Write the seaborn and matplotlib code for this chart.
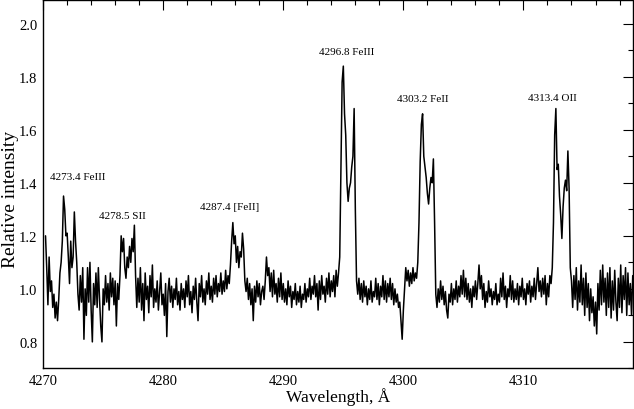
import numpy as np
import pandas as pd
import matplotlib
matplotlib.use("Agg")
import matplotlib.pyplot as plt
import seaborn as sns
from matplotlib.ticker import MultipleLocator

# ---------------- data ----------------
WL_STEP = 0.1  # sampling step of the spectrum, Angstrom

seg_start = [4270.2, 4273.4, 4276.5, 4277.9, 4285.7, 4287.0,
             4294.6, 4296.2, 4301.3, 4302.8, 4312.5, 4314.1]

seg1 = [1.20, 1.08, 0.94, 1.12, 0.99, 1.03, 0.93, 0.98, 0.89, 0.95,
        0.88, 0.96, 1.06, 1.10, 1.18, 1.35, 1.30, 1.20, 1.21, 1.12,
        1.02, 1.18, 1.08, 1.12, 1.29, 1.18, 1.10, 0.98, 0.92, 1.05,
        0.95, 1.08]
seg2 = [0.81, 1.00, 0.90, 1.08, 0.95, 1.10, 0.92, 0.80, 1.02, 0.94,
        1.06, 0.93, 1.08, 0.96, 0.86, 0.80, 1.00, 0.94, 1.05, 0.95,
        1.02, 0.92, 1.06, 0.97, 1.04, 0.94, 1.03, 0.86, 1.02, 0.96,
        1.05]
seg3 = [1.20, 1.14, 1.19, 1.08, 1.04, 1.12, 1.08, 1.16, 1.10, 1.19,
        1.14, 1.24, 1.05, 0.93]
seg4 = [1.04, 0.95, 1.08, 0.92, 1.02, 0.88, 1.06, 0.96, 1.01, 0.91,
        1.05, 0.97, 1.09, 0.93, 1.00, 0.95, 1.03, 0.92, 0.99, 1.06,
        0.94, 0.98, 0.90, 1.02, 0.82, 0.99, 1.04, 0.95, 1.01, 0.93,
        1.00, 0.96, 1.04, 0.94, 0.99, 0.92, 1.02, 0.96, 1.00, 0.93,
        1.03, 0.97, 1.05, 0.94, 0.99, 0.91, 1.01, 0.96, 1.04, 0.95,
        0.88, 1.02, 0.97, 1.05, 0.95, 1.00, 0.94, 1.03, 0.98, 1.06,
        0.96, 1.01, 0.95, 1.04, 0.98, 1.05, 0.97, 1.02, 0.99, 1.06,
        0.98, 1.03, 0.99, 1.07, 1.00, 1.05, 1.02, 1.09]
seg5 = [1.18, 1.25, 1.17, 1.20, 1.10, 1.16, 1.08, 1.14, 1.12, 1.21,
        1.15, 1.03, 0.99]
seg6 = [1.04, 0.96, 1.02, 0.94, 1.00, 0.88, 1.01, 0.95, 1.03, 0.97,
        1.02, 0.94, 0.99, 1.01, 0.96, 1.03, 1.12, 1.05, 1.08, 0.99,
        1.06, 0.97, 1.07, 0.98, 1.02, 0.95, 1.04, 0.97, 1.06, 0.96,
        1.02, 0.95, 1.00, 0.94, 1.03, 0.97, 1.01, 0.93, 0.99, 0.96,
        1.02, 0.94, 0.99, 0.95, 1.01, 0.93, 0.98, 0.96, 1.02, 0.95,
        1.00, 0.97, 1.04, 0.96, 1.01, 0.98, 1.05, 0.97, 1.02, 0.92,
        1.03, 0.96, 1.05, 0.98, 1.01, 0.95, 1.04, 0.98, 1.06, 0.97,
        1.03, 0.99, 1.05, 0.97, 1.07, 1.01]
seg7 = [1.06, 1.12, 1.45, 1.78, 1.84, 1.66, 1.58, 1.40, 1.33, 1.38,
        1.40, 1.46, 1.50, 1.68, 1.30, 1.03]
seg8 = [0.98, 1.04, 0.96, 1.02, 0.95, 1.03, 0.97, 1.01, 0.94, 1.00,
        0.96, 1.03, 0.95, 0.99, 0.97, 1.04, 0.96, 1.02, 0.94, 1.01,
        0.97, 1.05, 0.96, 1.03, 0.95, 1.02, 0.97, 1.04, 0.96, 1.02,
        0.94, 1.00, 0.95, 0.98, 0.93, 0.95, 0.88, 0.81, 0.92, 1.00,
        1.08, 1.03, 1.07, 1.01, 1.06, 1.02, 1.08, 1.03, 1.06, 1.04,
        1.10]
seg9 = [1.25, 1.48, 1.62, 1.66, 1.50, 1.46, 1.42, 1.36, 1.32, 1.38,
        1.42, 1.40, 1.49, 1.25, 0.98]
seg10 = [0.93, 1.00, 0.95, 1.03, 0.96, 1.01, 0.94, 0.99, 0.92, 0.89,
         0.98, 0.95, 1.02, 0.94, 1.00, 0.96, 1.03, 0.95, 1.01, 0.97,
         1.05, 0.98, 1.07, 0.97, 1.04, 0.96, 1.02, 0.95, 1.00, 0.93,
         1.01, 0.97, 1.03, 0.96, 1.02, 1.09, 1.00, 1.05, 0.96, 1.02,
         0.93, 0.99, 0.95, 1.03, 0.97, 1.00, 0.94, 0.99, 0.96, 1.02,
         0.94, 0.98, 0.95, 1.04, 0.97, 1.06, 0.96, 1.01, 0.93, 1.00,
         0.97, 1.05, 0.96, 1.03, 0.95, 1.00, 0.96, 1.02, 0.94, 1.01,
         0.97, 1.04, 0.96, 1.00, 0.94, 1.02, 0.98, 1.03, 0.95, 1.01,
         0.97, 1.04, 0.96, 1.02, 1.08, 0.99, 1.03, 0.97, 1.04, 0.98,
         1.05, 0.94, 1.02, 0.97, 1.05, 1.02, 1.08]
seg11 = [1.25, 1.58, 1.68, 1.45, 1.47, 1.35, 1.28, 1.19, 1.31, 1.38,
         1.41, 1.37, 1.52, 1.38, 1.08, 1.03]
seg12 = [0.93, 1.05, 0.96, 1.08, 0.92, 1.03, 0.95, 1.09, 0.94, 1.04,
         0.90, 1.06, 0.93, 1.02, 0.88, 1.00, 0.91, 0.97, 0.86, 0.95,
         0.83, 1.02, 0.92, 1.07, 0.94, 1.09, 0.95, 1.04, 0.90, 1.06,
         0.93, 1.08, 0.89, 1.03, 0.92, 1.07, 0.95, 0.88, 1.04, 0.93,
         1.09, 0.91, 1.05, 0.96, 1.08, 0.90, 1.06, 0.94, 1.02, 0.90,
         1.05]

segments = [seg1, seg2, seg3, seg4, seg5, seg6,
            seg7, seg8, seg9, seg10, seg11, seg12]

line_labels = ["4273.4 FeIII", "4278.5 SII", "4287.4 [FeII]",
               "4296.8 FeIII", "4303.2 FeII", "4313.4 OII"]
label_x = [4272.9, 4276.6, 4285.5, 4295.3, 4301.6, 4312.4]
label_y = [1.425, 1.277, 1.312, 1.894, 1.716, 1.72]

# ---------------- build table ----------------
wl, inten = [], []
for s0, vals in zip(seg_start, segments):
    wl.extend(s0 + WL_STEP * np.arange(len(vals)))
    inten.extend(vals)
df = pd.DataFrame({"wavelength": wl, "intensity": inten})

# ---------------- plot ----------------
sns.set_theme(style="white")
plt.rcParams["font.family"] = ["Liberation Serif", "DejaVu Serif"]
plt.rcParams["text.color"] = "black"
plt.rcParams["axes.labelcolor"] = "black"
plt.rcParams["xtick.color"] = "black"
plt.rcParams["ytick.color"] = "black"

fig = plt.figure(figsize=(6.34, 4.10), dpi=100)
ax = fig.add_axes([0.068, 0.099, 0.930, 0.899])

sns.lineplot(data=df, x="wavelength", y="intensity", ax=ax,
             color="black", linewidth=1.1, estimator=None, sort=False)

for t, x, y in zip(line_labels, label_x, label_y):
    ax.text(x, y, t, ha="center", va="center", fontsize=8, color="black")

ax.set_xlim(4270, 4319.1)
ax.set_ylim(0.7, 2.09)
ax.set_xticks([4270, 4280, 4290, 4300, 4310])
ax.set_xticklabels(["4270", "4280", "4290", "4300", "4310"])
ax.set_yticks([0.8, 1.0, 1.2, 1.4, 1.6, 1.8, 2.0])
ax.set_yticklabels(["0.8", "1.0", "1.2", "1.4", "1.6", "1.8", "2.0"])
ax.xaxis.set_minor_locator(MultipleLocator(2))
ax.yaxis.set_minor_locator(MultipleLocator(0.1))

ax.tick_params(which="both", direction="in", top=True, right=True,
               labelsize=10.5, color="black", labelcolor="black",
               width=0.8, pad=4)
ax.tick_params(which="major", length=7)
ax.tick_params(which="minor", length=3.6)
for sp in ax.spines.values():
    sp.set_color("black")
    sp.set_linewidth(1.0)

ax.set_xlabel("Wavelength, Å", fontsize=12.5, color="black")
ax.xaxis.set_label_coords(0.5, -0.051)
ax.xaxis.label.set_va("top")
ax.set_ylabel("Relative intensity", fontsize=14, color="black")
ax.yaxis.set_label_coords(-0.055, 0.46)
ax.yaxis.label.set_va("center")

fig.savefig("out.png", dpi=100)
